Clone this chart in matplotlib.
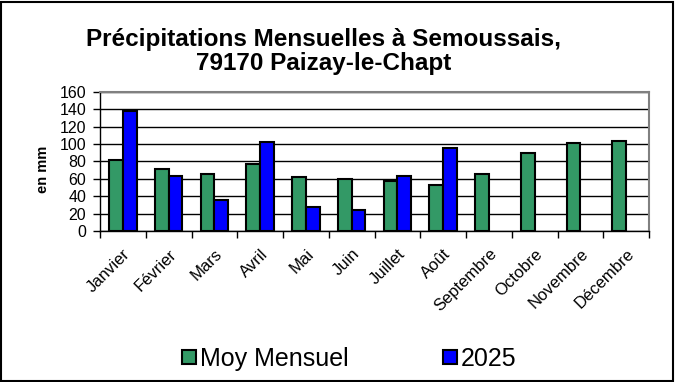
import matplotlib
matplotlib.use("Agg")
import matplotlib.pyplot as plt
import numpy as np
from matplotlib.patches import Patch, Rectangle

plt.rcParams['font.family'] = ['Liberation Sans', 'DejaVu Sans']

# data
mois = ["Janvier", "Février", "Mars", "Avril", "Mai", "Juin", "Juillet",
        "Août", "Septembre", "Octobre", "Novembre", "Décembre"]
moy_mensuel = [82, 71, 65.5, 77.5, 62, 60, 58, 53, 66, 90, 101.5, 104]
annee_2025 = [138, 63, 36, 102, 28, 24, 63, 96, np.nan, np.nan, np.nan, np.nan]

vert = "#339966"
bleu = "#0000FF"

W, H = 675, 382
fig = plt.figure(figsize=(W / 100, H / 100), dpi=100)

# plot area in pixels: x 100..649, y 92..231
ax = fig.add_axes([100 / W, 1 - 231 / H, 549 / W, 139 / H])

x = np.arange(len(mois))
largeur = 0.3
ax.bar(x - largeur / 2, moy_mensuel, largeur, color=vert, edgecolor="black",
       linewidth=1.5, zorder=3)
ax.bar(x + largeur / 2, annee_2025, largeur, color=bleu, edgecolor="black",
       linewidth=1.5, zorder=3)

ax.set_xlim(-0.5, len(mois) - 0.5)
ax.set_ylim(0, 160)
ax.set_yticks(np.arange(0, 161, 20))
ax.yaxis.grid(True, color="black", linewidth=1, zorder=0)
ax.set_axisbelow(True)

# ticks between categories, labels at centres
ax.set_xticks(np.arange(-0.5, len(mois)), minor=False)
ax.set_xticklabels([])
ax.set_xticks(x, minor=True)
ax.set_xticklabels(mois, minor=True, rotation=45, ha="right", va="top",
                   rotation_mode="anchor", fontsize=12)
ax.tick_params(axis="x", which="minor", length=0, pad=11)
ax.tick_params(axis="x", which="major", length=5, width=1, color="black")
ax.tick_params(axis="y", length=5, width=1, labelsize=11.5, pad=5)

for s in ["top", "right"]:
    ax.spines[s].set_color("#808080")
    ax.spines[s].set_linewidth(1.5)
for s in ["left", "bottom"]:
    ax.spines[s].set_color("black")
    ax.spines[s].set_linewidth(1)

# title, two centred lines
fig.text(324 / W, 1 - 46 / H, "Précipitations Mensuelles à Semoussais,",
         ha="center", va="baseline", fontsize=17.5, fontweight="bold")
fig.text(324 / W, 1 - 70 / H, "79170 Paizay-le-Chapt",
         ha="center", va="baseline", fontsize=17.5, fontweight="bold")

fig.text(43 / W, 1 - 169 / H, "en mm", rotation=90, ha="center", va="center",
         fontsize=10.5, fontweight="bold")

handles = [Patch(facecolor=vert, edgecolor="black", linewidth=1.5, label="Moy Mensuel"),
           Patch(facecolor=bleu, edgecolor="black", linewidth=1.5, label="2025")]
fig.legend(handles=handles, loc="center", bbox_to_anchor=(349 / W, 1 - 359 / H),
           ncol=2, frameon=False, fontsize=18, handlelength=0.56,
           handleheight=0.48, handletextpad=0.16, columnspacing=3.76,
           borderpad=0)

# outer frame of the chart
fig.patches.append(Rectangle((0.5 / W, 1.5 / H), (W - 3) / W, (H - 3) / H,
                             transform=fig.transFigure, fill=False,
                             edgecolor="black", linewidth=1.5))

fig.savefig("out.png", dpi=100)
